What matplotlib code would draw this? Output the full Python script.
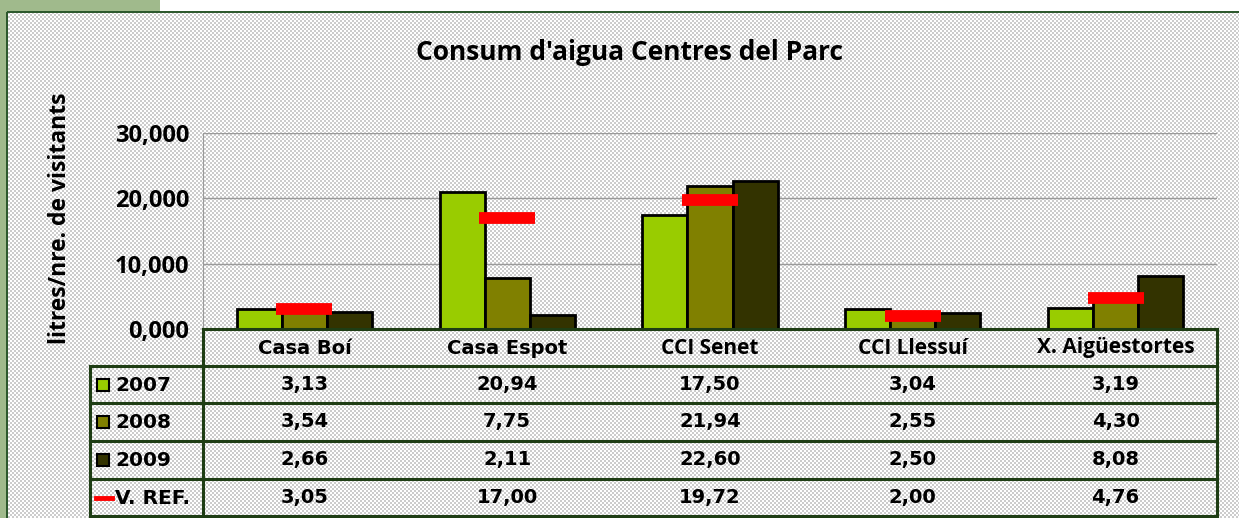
import numpy as np
import matplotlib
matplotlib.use("Agg")
import matplotlib.pyplot as plt
from matplotlib.patches import Rectangle
from matplotlib.lines import Line2D

categories = ["Casa Boí", "Casa Espot", "CCI Senet", "CCI Llessuí", "X. Aigüestortes"]
v2007 = [3.13, 20.94, 17.50, 3.04, 3.19]
v2008 = [3.54, 7.75, 21.94, 2.55, 4.30]
v2009 = [2.66, 2.11, 22.60, 2.50, 8.08]
vref = [3.05, 17.00, 19.72, 2.00, 4.76]
series_names = ["2007", "2008", "2009"]
yticks = [0, 10, 20, 30]
ytick_labels = ["0,000", "10,000", "20,000", "30,000"]

colors = ["#99cc00", "#808000", "#333300"]
W, H = 1239, 518

fig = plt.figure(figsize=(W / 100, H / 100), dpi=100)

# dotted grey background with green border like the original sheet
ii, jj = np.mgrid[0:H, 0:W]
bg = np.where(((ii // 2 + jj // 2) % 2) == 0, 0.80, 1.0)
img = np.dstack([bg, bg, bg])
img[:12, :] = 1.0
img[:12, :160] = [0.63, 0.73, 0.55]
img[:, :7] = [0.63, 0.73, 0.55]
img[11:13, 7:] = [0.18, 0.35, 0.18]
img[12:, 6:8] = [0.18, 0.35, 0.18]
fig.figimage(img, xo=0, yo=0, origin="upper", zorder=-5)

def fx(px):
    return px / W

def fy(py):
    return 1 - py / H

ax = fig.add_axes([fx(203), fy(329), fx(1217) - fx(203), fy(133) - fy(329)])
ax.set_facecolor("none")
x = np.arange(len(categories))
bw = 0.222
for k, vals in enumerate([v2007, v2008, v2009]):
    ax.bar(x + (k - 1) * bw, vals, bw, color=colors[k], edgecolor="black",
           linewidth=2, zorder=3)
ax.plot(x, vref, linestyle="none", marker="_", ms=40, mew=8.5, color="#ff0000", zorder=4)
ax.set_xlim(-0.5, len(categories) - 0.5)
ax.set_ylim(0, 30)
ax.set_yticks(yticks)
ax.set_yticklabels(ytick_labels, fontsize=17, fontweight="bold", family="Open Sans")
ax.tick_params(axis="y", length=0, pad=10)
ax.set_xticks([])
ax.grid(axis="y", color="#9a9a9a", linewidth=1)
for s in ["top", "right", "bottom"]:
    ax.spines[s].set_visible(False)
ax.spines["left"].set_color("#9a9a9a")

fig.text(fx(630), fy(52), "Consum d'aigua Centres del Parc", ha="center", va="center",
         fontsize=19, fontweight="bold", family="Open Sans")
fig.text(fx(60), fy(218), "litres/nre. de visitants", ha="center", va="center",
         rotation=90, fontsize=16.5, fontweight="bold", family="Open Sans")

# data table under the plot
tab = fig.add_axes([0, 0, 1, 1])
tab.set_xlim(0, W)
tab.set_ylim(H, 0)
tab.axis("off")
tab.patch.set_alpha(0)
lc = "#1e3d14"
lw = 2.2
rows_y = [329, 366, 403, 441, 479, 516]
tab.plot([203, 1217], [329, 329], color=lc, lw=lw)
for yy in rows_y[1:]:
    tab.plot([90, 1217], [yy, yy], color=lc, lw=lw)
tab.plot([90, 90], [366, 516], color=lc, lw=lw)
tab.plot([203, 203], [329, 516], color=lc, lw=lw)
tab.plot([1217, 1217], [329, 516], color=lc, lw=lw)

col_w = (1217 - 203) / len(categories)
tfont = dict(fontsize=14, fontweight="bold", family="DejaVu Sans", ha="center", va="center")
for c, name in enumerate(categories):
    fam = "DejaVu Sans" if name.startswith("Casa") else "Open Sans"
    tab.text(203 + col_w * (c + 0.5), 348, name, fontsize=14 if fam == "DejaVu Sans" else 15,
             fontweight="bold", family=fam, ha="center", va="center")
table_rows = [v2007, v2008, v2009, vref]
for r, vals in enumerate(table_rows):
    yc = (rows_y[r + 1] + rows_y[r + 2]) / 2
    for c, v in enumerate(vals):
        tab.text(203 + col_w * (c + 0.5), yc, f"{v:.2f}".replace(".", ","), **tfont)
    if r < 3:
        tab.add_patch(Rectangle((97, yc - 6), 12, 12, facecolor=colors[r],
                                edgecolor="black", lw=1.5))
        label = series_names[r]
    else:
        tab.add_line(Line2D([96, 112], [yc, yc], color="#ff0000", lw=3.5))
        label = "V. REF."
    tab.text(115, yc + 1, label, fontsize=14.5, fontweight="bold", family="DejaVu Sans",
             ha="left", va="center")

fig.savefig("out.png", dpi=100)
